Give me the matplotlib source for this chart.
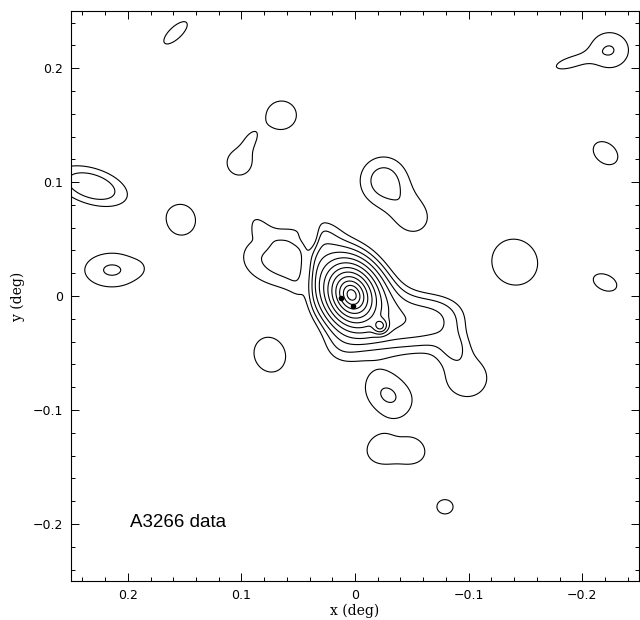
import numpy as np
import matplotlib.pyplot as plt
from matplotlib.ticker import MultipleLocator

# contour levels (logarithmic, factor 1.4)
levels = [1.0, 1.4, 1.96, 2.74, 3.84, 5.38, 7.53, 10.5, 14.8, 20.7, 29.0, 40.5]

# cluster core, exponential profile
core_x, core_y = 0.003, 0.001
core_amp = 60.0
core_scale = (0.0114, 0.0091)   # major, minor (deg)
core_pa = 65.0

# gaussian components: centre (deg), amplitude, sigma major/minor (deg), angle (deg)
blob_x   = [0.158, 0.0647, 0.102, 0.0915, 0.232, 0.214, 0.188, 0.153, -0.0292,
            -0.0366, -0.0204, -0.0529, -0.0792, 0.0752, -0.1406, -0.2205, -0.2205,
            -0.224, -0.185, -0.025, -0.0529,
            -0.025, -0.038, -0.074, -0.0222, -0.0994, -0.087,
            0.0629, 0.0866, 0.0278, 0.037, 0.0146, 0.0418, 0.0812, 0.048]
blob_y   = [0.231, 0.1588, 0.117, 0.139, 0.0965, 0.0228, 0.025, 0.0673, -0.0877,
            -0.143, -0.132, -0.134, -0.185, -0.0518, 0.0298, 0.0118, 0.1254,
            0.2158, 0.2035, 0.1018, 0.0675,
            -0.013, -0.0228, -0.019, -0.0263, -0.0725, -0.045,
            0.0342, 0.0649, 0.056, 0.054, -0.0474, 0.024, 0.0474, 0.0491]
blob_amp = [1.3, 1.3, 1.25, 0.55, 1.8, 1.45, 0.15, 1.3, 1.43,
            0.75, 0.75, 0.6, 1.3, 1.3, 1.3, 1.3, 1.3,
            1.42, 1.1, 1.586, 1.1,
            0.8, 1.3, 1.3, 5.0, 1.3, 0.6,
            1.6, 0.5, 0.5, -0.8, 0.7, -1.0, -0.3, -0.3]
blob_sa  = [0.0182, 0.018, 0.0157, 0.009, 0.03, 0.0277, 0.007, 0.0164, 0.024,
            0.03, 0.012, 0.012, 0.0097, 0.021, 0.0285, 0.0142, 0.0165,
            0.0183, 0.014, 0.021, 0.017,
            0.04, 0.025, 0.02, 0.004, 0.022, 0.01,
            0.036, 0.014, 0.012, 0.01, 0.014, 0.018, 0.006, 0.006]
blob_sb  = [0.0073, 0.017, 0.0157, 0.006, 0.0145, 0.0171, 0.007, 0.0152, 0.018,
            0.015, 0.012, 0.012, 0.0085, 0.0182, 0.027, 0.0091, 0.012,
            0.0199, 0.0055, 0.021, 0.017,
            0.022, 0.018, 0.016, 0.004, 0.021, 0.01,
            0.024, 0.007, 0.012, 0.004, 0.014, 0.005, 0.006, 0.006]
blob_pa  = [137, 0, 0, 118, 17, 0, 0, 90, 35,
            0, 0, 0, 0, 63, 45, 24, 38.7,
            90, -16.4, 0, 0,
            24, 14, 0, 0, 0, 0,
            0, 59, 0, 90, 0, 90, 0, 0]

# the two central galaxies
gal_x = [0.012, 0.002]
gal_y = [-0.002, -0.009]

xs = np.linspace(0.25, -0.25, 700)
ys = np.linspace(-0.25, 0.25, 700)
X, Y = np.meshgrid(xs, ys)

def rotated(cx, cy, pa):
    t = np.radians(pa)
    u = (X - cx) * np.cos(t) + (Y - cy) * np.sin(t)
    v = -(X - cx) * np.sin(t) + (Y - cy) * np.cos(t)
    return u, v

u, v = rotated(core_x, core_y, core_pa)
Z = core_amp * np.exp(-np.sqrt((u / core_scale[0])**2 + (v / core_scale[1])**2))
for i in range(len(blob_x)):
    u, v = rotated(blob_x[i], blob_y[i], blob_pa[i])
    Z += blob_amp[i] * np.exp(-0.5 * ((u / blob_sa[i])**2 + (v / blob_sb[i])**2))

fig = plt.figure(figsize=(6.4, 6.2), dpi=100)
ax = fig.add_axes([0.111, 0.063, 0.8875, 0.919])
ax.contour(X, Y, Z, levels=levels, colors='black', linewidths=0.8)
ax.plot(gal_x, gal_y, 'o', color='black', markersize=3)

ax.set_xlim(0.25, -0.25)
ax.set_ylim(-0.25, 0.25)
ax.xaxis.set_major_locator(MultipleLocator(0.1))
ax.xaxis.set_minor_locator(MultipleLocator(0.02))
ax.yaxis.set_major_locator(MultipleLocator(0.1))
ax.yaxis.set_minor_locator(MultipleLocator(0.02))
ax.tick_params(which='both', direction='in', top=True, right=True, width=0.7)
ax.tick_params(which='major', length=5.5, labelsize=9, pad=6)
ax.tick_params(which='minor', length=3)
fmt = plt.FuncFormatter(lambda v, p: '0' if abs(v) < 1e-9 else ('%.1f' % v).replace('-', '\u2212'))
ax.xaxis.set_major_formatter(fmt)
ax.yaxis.set_major_formatter(fmt)
for s in ax.spines.values():
    s.set_linewidth(0.8)
ax.set_xlabel('x (deg)', fontsize=10, family='DejaVu Serif', labelpad=1)
ax.set_ylabel('y (deg)', fontsize=10, family='DejaVu Serif', labelpad=5)
ax.text(0.104, 0.102, 'A3266 data', transform=ax.transAxes, fontsize=13.5,
        family='Liberation Sans', ha='left', va='center')

fig.savefig('out.png', dpi=100)
